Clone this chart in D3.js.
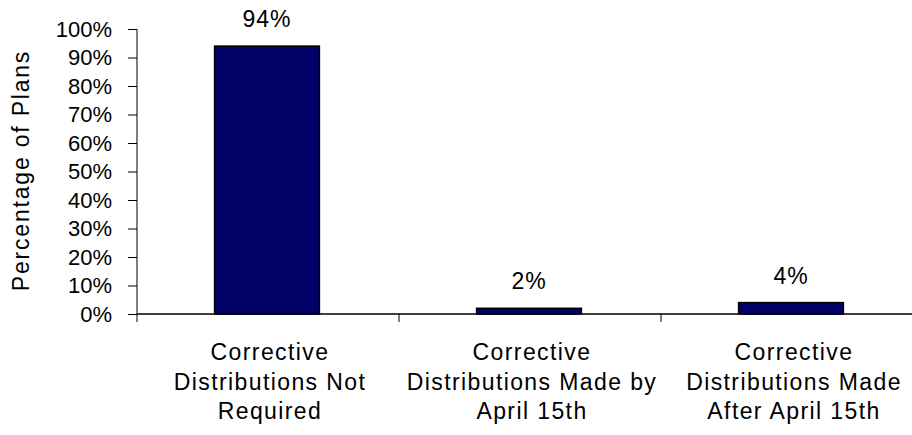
<!DOCTYPE html>
<html>
<head>
<meta charset="utf-8">
<script src="https://cdn.jsdelivr.net/npm/d3@7/dist/d3.min.js"></script>
<style>
  html, body { margin: 0; padding: 0; background: #fff; }
  svg { display: block; }
  text { font-family: "Liberation Sans", Arial, sans-serif; fill: #000; }
</style>
</head>
<body>
<svg id="chart" width="912" height="435"></svg>
<script>
// Share of plans by corrective distribution status
const categories = [
  ["Corrective", "Distributions Not", "Required"],
  ["Corrective", "Distributions Made by", "April 15th"],
  ["Corrective", "Distributions Made", "After April 15th"]
];
const values = [94, 2, 4];
const yTicks = [0, 10, 20, 30, 40, 50, 60, 70, 80, 90, 100];
const yTitle = "Percentage of Plans";

const svg = d3.select("#chart");
const margin = { left: 137, top: 29, right: -11, bottom: 121 };
const W = 912, H = 435;
const plotW = W - margin.left - margin.right;
const plotH = H - margin.top - margin.bottom;

const x = d3.scaleBand()
  .domain(d3.range(values.length))
  .range([margin.left, margin.left + plotW])
  .paddingInner(0.6)
  .paddingOuter(0.3);
const xOuter = d3.scaleBand()
  .domain(d3.range(values.length))
  .range([margin.left, margin.left + plotW]);

const y = d3.scaleLinear().domain([0, 100]).range([margin.top + plotH, margin.top]);

// Bars
svg.append("g").selectAll("rect")
  .data(values)
  .join("rect")
  .attr("x", (d, i) => x(i) - 1)
  .attr("width", x.bandwidth())
  .attr("y", d => y(d))
  .attr("height", d => y(0) - y(d))
  .attr("fill", "#000066")
  .attr("stroke", "#000")
  .attr("stroke-width", 1.5);

// Value labels
svg.append("g").selectAll("text")
  .data(values)
  .join("text")
  .attr("x", (d, i) => x(i) - 1 + x.bandwidth() / 2)
  .attr("y", d => y(d) - 19)
  .attr("text-anchor", "middle")
  .attr("font-size", 23)
  .attr("letter-spacing", 1)
  .text(d => d + "%");

// Y axis
const yAxis = svg.append("g")
  .attr("transform", `translate(${margin.left},0)`)
  .call(d3.axisLeft(y).tickValues(yTicks).tickSize(9).tickPadding(16).tickFormat(d => d + "%"));
yAxis.select(".domain").remove();
yAxis.selectAll(".tick line").attr("stroke", "#000").attr("stroke-width", 1);
yAxis.selectAll(".tick text").attr("font-size", 22).attr("font-family", "Liberation Sans, Arial, sans-serif").attr("fill", "#000");
yAxis.append("line")
  .attr("x1", 0).attr("x2", 0)
  .attr("y1", margin.top).attr("y2", y(0) + 8)
  .attr("stroke", "#000").attr("stroke-width", 1);

// X axis with ticks between categories
const xAxis = svg.append("g");
xAxis.append("line")
  .attr("x1", margin.left).attr("x2", margin.left + plotW)
  .attr("y1", y(0)).attr("y2", y(0))
  .attr("stroke", "#000").attr("stroke-width", 1.5);
xAxis.selectAll(".sep")
  .data(d3.range(1, values.length))
  .join("line")
  .attr("class", "sep")
  .attr("x1", i => xOuter(i)).attr("x2", i => xOuter(i))
  .attr("y1", y(0)).attr("y2", y(0) + 8)
  .attr("stroke", "#000").attr("stroke-width", 1);

// Category labels
const catG = svg.append("g").selectAll("text")
  .data(categories)
  .join("text")
  .attr("text-anchor", "middle")
  .attr("font-size", 23)
  .attr("letter-spacing", 1.4)
  .attr("x", (d, i) => xOuter(i) + xOuter.bandwidth() / 2 + 2)
  .attr("y", 360);
catG.selectAll("tspan")
  .data(d => d)
  .join("tspan")
  .attr("x", function () { return d3.select(this.parentNode).attr("x"); })
  .attr("dy", (d, i) => i === 0 ? 0 : 29.5)
  .text(d => d);

// Y axis title
svg.append("text")
  .attr("transform", `translate(29,${(y(0) + y(100)) / 2 - 1}) rotate(-90)`)
  .attr("text-anchor", "middle")
  .attr("font-size", 23)
  .attr("letter-spacing", 1.8)
  .text(yTitle);
</script>
</body>
</html>
